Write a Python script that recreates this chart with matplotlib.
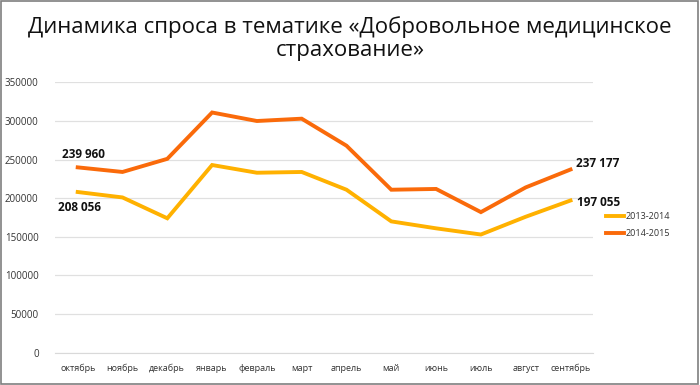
import matplotlib
matplotlib.use("Agg")
import matplotlib.pyplot as plt
from matplotlib.patches import Rectangle

months = ["октябрь", "ноябрь", "декабрь", "январь", "февраль", "март",
          "апрель", "май", "июнь", "июль", "август", "сентябрь"]
s2013 = [208056, 201000, 174000, 243000, 233000, 234000,
         211000, 170000, 161000, 153000, 176000, 197055]
s2014 = [239960, 234000, 251000, 311000, 300000, 303000,
         268000, 211000, 212000, 182000, 214000, 237177]
names = ["2013-2014", "2014-2015"]
yticks = [0, 50000, 100000, 150000, 200000, 250000, 300000, 350000]

plt.rcParams['font.family'] = ['Open Sans', 'DejaVu Sans']

fig = plt.figure(figsize=(7, 3.85), dpi=100)
ax = fig.add_axes([0.079, 0.084, 0.768, 0.702])

x = list(range(len(months)))
ax.plot(x, s2013, color="#FFB100", linewidth=2.8, label=names[0], solid_joinstyle="miter")
ax.plot(x, s2014, color="#FA6A0A", linewidth=2.8, label=names[1], solid_joinstyle="miter")

ax.set_xlim(-0.5, len(months) - 0.5)
ax.set_ylim(0, 350000)
ax.set_yticks(yticks)
ax.set_yticklabels([str(v) for v in yticks], fontsize=7, color="#333333")
ax.set_xticks(x)
ax.set_xticklabels(months, fontsize=6.5, color="#333333")
ax.tick_params(length=0, pad=8)
ax.tick_params(axis="y", pad=12)
ax.grid(axis="y", color="#E0E0E0", linewidth=0.9)
ax.set_axisbelow(True)
for sp in ["top", "right", "left"]:
    ax.spines[sp].set_visible(False)
ax.spines["bottom"].set_color("#D9D9D9")


def fmt(v):
    return f"{v:,}".replace(",", " ")


lab = dict(fontsize=8.5, fontweight="bold", color="#111111")
ax.annotate(fmt(s2014[0]), (x[0], s2014[0]), xytext=(-11, 7), textcoords="offset points", **lab)
ax.annotate(fmt(s2013[0]), (x[0], s2013[0]), xytext=(-14, -14), textcoords="offset points", **lab)
ax.annotate(fmt(s2014[-1]), (x[-1], s2014[-1]), xytext=(4, 2), textcoords="offset points", **lab)
ax.annotate(fmt(s2013[-1]), (x[-1], s2013[-1]), xytext=(5, -4), textcoords="offset points", **lab)

ax.legend(loc="upper left", bbox_to_anchor=(1.01, 0.55), frameon=False, fontsize=6.5,
          handlelength=2.0, handletextpad=0.1, labelspacing=0.9, labelcolor="#333333")

fig.text(0.5, 0.93, "Динамика спроса в тематике «Добровольное медицинское",
         ha="center", va="center", fontsize=16, color="#111111")
fig.text(0.5, 0.868, "страхование»", ha="center", va="center", fontsize=16, color="#111111")

fig.patches.append(Rectangle((0.002, 0.003), 0.995, 0.994, transform=fig.transFigure,
                             fill=False, edgecolor="#7F7F7F", linewidth=1.2))

fig.savefig("out.png", dpi=100)
